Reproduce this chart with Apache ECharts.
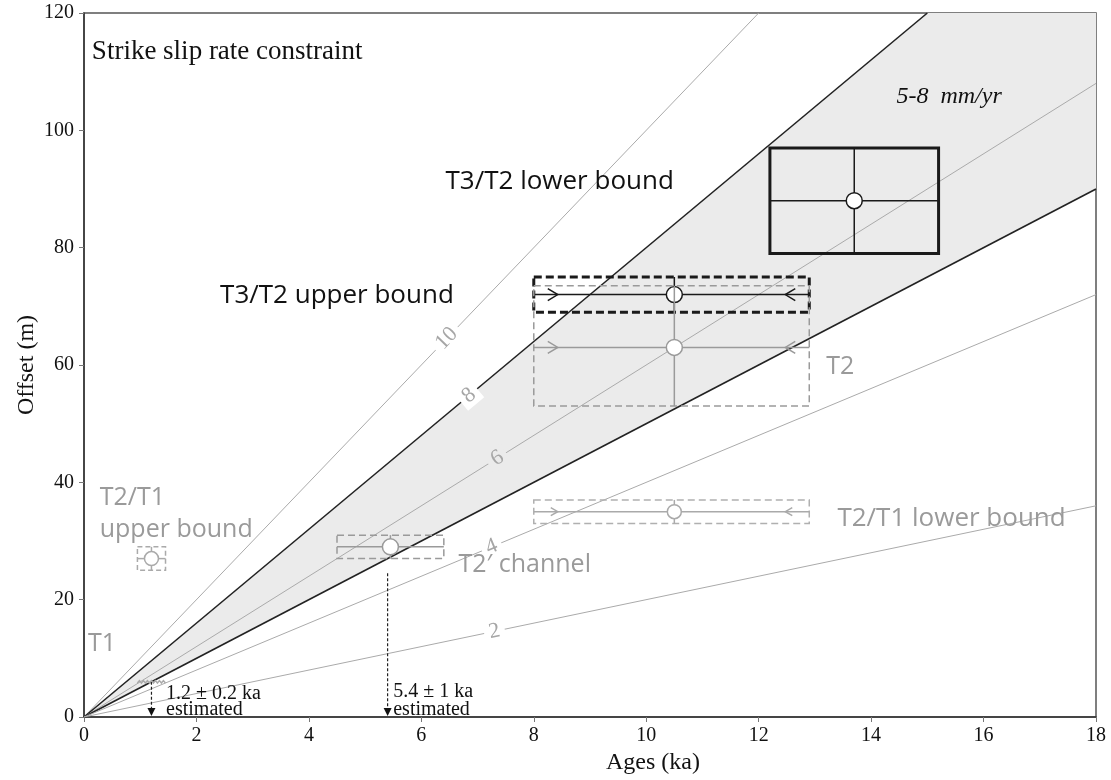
<!DOCTYPE html>
<html><head><meta charset="utf-8">
<script src="https://cdn.jsdelivr.net/npm/echarts@6/dist/echarts.min.js"></script>
<style>html,body{margin:0;padding:0;background:#fff}#c{width:1111px;height:780px}</style>
</head><body><div id="c"></div>
<script>
// ---- data ----
const xTickValues = [0, 2, 4, 6, 8, 10, 12, 14, 16, 18];
const rates = [10, 8, 6, 5, 4, 2];                 // mm/yr reference lines
const rateLabelAge = [6.45, 6.85, 7.35, null, 7.25, 7.3];
const bandRates = [5, 8];                          // 5-8 mm/yr band
const boxNames = ['T3/T2 lower bound', 'T3/T2 upper bound', 'T2', 'T2/T1 lower bound', "T2' channel", 'T2/T1 upper bound'];
const ageCenter = [13.7, 10.5, 10.5, 10.5, 5.45, 1.2];
const ageMin = [12.2, 8.0, 8.0, 8.0, 4.5, 0.95];
const ageMax = [15.2, 12.9, 12.9, 12.9, 6.4, 1.45];
const offsetCenter = [88, 72, 63, 35, 29, 27];
const offsetMin = [79, 69, 53, 33, 27, 25];
const offsetMax = [97, 75, 73.5, 37, 31, 29];
const estAge = [1.2, 5.4];
const estTopOffset = [6, 24.5];
const t1Ages = [0.95, 1.45];
const t1Offset = 6;

const X_MAX = 18, Y_MAX = 120;
const GRAY = '#9a9a9a', BLACK = '#1a1a1a', BAND = '#ebebeb';
const SERIF = '"Liberation Serif", "Times New Roman", serif';
const SANS = '"Open Sans", "Noto Sans", sans-serif';

// box styles per measurement (index aligned with boxNames)
const boxStyle = [
  {stroke: BLACK, lw: 3, dash: null, inner: BLACK, arrows: false, r: 8},
  {stroke: BLACK, lw: 3, dash: [8, 4], inner: BLACK, arrows: true, r: 8},
  {stroke: GRAY, lw: 1.5, dash: [7, 4], inner: GRAY, arrows: true, r: 8},
  {stroke: '#b0b0b0', lw: 1.5, dash: [7, 4], inner: '#aaa', arrows: true, r: 7, small: true},
  {stroke: GRAY, lw: 1.5, dash: [7, 4], inner: GRAY, arrows: false, r: 8},
  {stroke: '#aaa', lw: 1.5, dash: [5, 3], inner: '#aaa', arrows: false, r: 7}
];

const series = [];

// band polygon
series.push({
  type: 'custom', silent: true, z: 1,
  data: [[0]],
  renderItem: function (params, api) {
    const lo = bandRates[0], hi = bandRates[1];
    const pts = [[0, 0], [Math.min(X_MAX, Y_MAX / hi), Math.min(Y_MAX, hi * X_MAX)], [X_MAX, Y_MAX], [X_MAX, Math.min(Y_MAX, lo * X_MAX)]]
      .map(p => api.coord(p));
    return {type: 'polygon', shape: {points: pts}, style: {fill: BAND}};
  }
});

// rate lines
rates.forEach(function (r) {
  const bold = bandRates.indexOf(r) >= 0;
  const end = Math.min(X_MAX, Y_MAX / r);
  series.push({
    type: 'line', silent: true, z: 2, symbol: 'none', animation: false,
    data: [[0, 0], [end, r * end]],
    lineStyle: {color: bold ? '#222' : '#aaaaaa', width: bold ? 1.6 : 1}
  });
});

// rate labels
series.push({
  type: 'custom', silent: true, z: 3,
  data: rates.map((r, i) => rateLabelAge[i] == null ? null : [rateLabelAge[i], r * rateLabelAge[i], r]).filter(d => d),
  renderItem: function (params, api) {
    const x = api.value(0), y = api.value(1), r = api.value(2);
    const p = api.coord([x, y]);
    const p2 = api.coord([x + 1, y + r]);
    const ang = Math.atan2(p[1] - p2[1], p2[0] - p[0]);
    const inBand = r > bandRates[0] && r < bandRates[1];
    return {
      type: 'text', x: p[0], y: p[1], rotation: ang,
      style: {text: String(r), fill: '#a6a6a6', font: '22px ' + SERIF, align: 'center', verticalAlign: 'middle',
        backgroundColor: inBand ? BAND : '#fff', padding: [0, 5]}
    };
  }
});

// error boxes
series.push({
  type: 'custom', silent: true, z: 5,
  data: boxNames.map((n, i) => [ageMin[i], ageMax[i], offsetMin[i], offsetMax[i], ageCenter[i], offsetCenter[i], i]),
  renderItem: function (params, api) {
    const i = api.value(6);
    const s = boxStyle[i];
    const tl = api.coord([api.value(0), api.value(3)]);
    const br = api.coord([api.value(1), api.value(2)]);
    const c = api.coord([api.value(4), api.value(5)]);
    const children = [];
    children.push({type: 'rect', shape: {x: tl[0], y: tl[1], width: br[0] - tl[0], height: br[1] - tl[1]},
      style: {fill: null, stroke: s.stroke, lineWidth: s.lw, lineDash: s.dash}});
    children.push({type: 'line', shape: {x1: tl[0], y1: c[1], x2: br[0], y2: c[1]}, style: {stroke: s.inner, lineWidth: 1.5}});
    children.push({type: 'line', shape: {x1: c[0], y1: tl[1], x2: c[0], y2: br[1]}, style: {stroke: s.inner, lineWidth: 1.5}});
    if (s.arrows) {
      const h = s.small ? 4 : 6, w = s.small ? 7 : 10, off = 24;
      children.push({type: 'polyline', shape: {points: [[tl[0] + off - w, c[1] - h], [tl[0] + off, c[1]], [tl[0] + off - w, c[1] + h]]},
        style: {stroke: s.inner, lineWidth: 1.5, fill: null}});
      children.push({type: 'polyline', shape: {points: [[br[0] - off + w, c[1] - h], [br[0] - off, c[1]], [br[0] - off + w, c[1] + h]]},
        style: {stroke: s.inner, lineWidth: 1.5, fill: null}});
    }
    children.push({type: 'circle', shape: {cx: c[0], cy: c[1], r: s.r}, style: {fill: '#fff', stroke: s.inner, lineWidth: 1.5}});
    return {type: 'group', children: children};
  }
});

// estimated-age dotted arrows
series.push({
  type: 'custom', silent: true, z: 6,
  data: estAge.map((a, i) => [a, estTopOffset[i]]),
  renderItem: function (params, api) {
    const top = api.coord([api.value(0), api.value(1)]);
    const bot = api.coord([api.value(0), 0]);
    return {type: 'group', children: [
      {type: 'line', shape: {x1: top[0], y1: top[1], x2: bot[0], y2: bot[1] - 7}, style: {stroke: '#222', lineWidth: 1.2, lineDash: [3, 2]}},
      {type: 'polygon', shape: {points: [[bot[0] - 4, bot[1] - 9], [bot[0] + 4, bot[1] - 9], [bot[0], bot[1] - 1]]}, style: {fill: '#111'}}
    ]};
  }
});

// T1 mark
series.push({
  type: 'custom', silent: true, z: 6,
  data: [[t1Ages[0], t1Ages[1], t1Offset]],
  renderItem: function (params, api) {
    const a = api.coord([api.value(0), api.value(2)]);
    const b = api.coord([api.value(1), api.value(2)]);
    const pts = [];
    for (let x = a[0], k = 0; x <= b[0]; x += 2, k++) pts.push([x, a[1] + (k % 2 ? -1.2 : 1.2)]);
    return {type: 'polyline', shape: {points: pts}, style: {stroke: '#aaa', lineWidth: 1.5, fill: null}};
  }
});

// text annotations (anchor in data coords)
const annotations = [
  {t: 'Strike slip rate constraint', at: [0.14, 113.4], font: '27px ' + SERIF, fill: '#111'},
  {t: 'T3/T2 lower bound', at: [6.43, 91.2], font: '26px ' + SANS, fill: '#111'},
  {t: 'T3/T2 upper bound', at: [2.42, 71.8], font: '26px ' + SANS, fill: '#111'},
  {t: '5-8  mm/yr', at: [14.45, 105.7], font: 'italic 24px ' + SERIF, fill: '#111'},
  {t: 'T2', at: [13.2, 59.6], font: '25px ' + SANS, fill: GRAY},
  {t: 'T2/T1 lower bound', at: [13.4, 33.9], font: '26px ' + SANS, fill: GRAY},
  {t: 'T2/T1\nupper bound', at: [0.28, 34.7], font: '25px ' + SANS, fill: GRAY, lh: 32},
  {t: 'T2\u2032 channel', at: [6.66, 25.9], font: '25px ' + SANS, fill: GRAY},
  {t: 'T1', at: [0.07, 12.4], font: '25px ' + SANS, fill: GRAY},
  {t: '1.2 \u00b1 0.2 ka\nestimated', at: [1.46, 2.6], font: '20px ' + SERIF, fill: '#111', lh: 16},
  {t: '5.4 \u00b1 1 ka\nestimated', at: [5.5, 2.7], font: '20px ' + SERIF, fill: '#111', lh: 18}
];
series.push({
  type: 'custom', silent: true, z: 8,
  data: annotations.map((a, i) => [a.at[0], a.at[1], i]),
  renderItem: function (params, api) {
    const a = annotations[api.value(2)];
    const p = api.coord([api.value(0), api.value(1)]);
    return {type: 'text', x: p[0], y: p[1],
      style: {text: a.t, font: a.font, fill: a.fill, align: 'left', verticalAlign: 'middle', lineHeight: a.lh}};
  }
});

const option = {
  animation: false,
  backgroundColor: '#fff',
  grid: {left: 84, right: 15, top: 13, bottom: 62, show: true, borderColor: '#555', borderWidth: 1.5, backgroundColor: 'transparent'},
  xAxis: {
    type: 'value', min: 0, max: X_MAX, interval: 2,
    name: 'Ages (ka)', nameLocation: 'middle', nameGap: 34, nameMoveOverlap: false,
    nameTextStyle: {fontFamily: SERIF, fontSize: 24, color: '#111', padding: [0, 0, 0, 126]},
    axisLine: {show: true, lineStyle: {color: '#333', width: 1.5}},
    axisTick: {show: true, length: 5, lineStyle: {color: '#777'}},
    axisLabel: {fontFamily: SERIF, fontSize: 20, color: '#111', margin: 9},
    splitLine: {show: false}
  },
  yAxis: {
    type: 'value', min: 0, max: Y_MAX, interval: 20,
    name: 'Offset (m)', nameLocation: 'middle', nameGap: 45, nameRotate: 90, nameMoveOverlap: false,
    nameTextStyle: {fontFamily: SERIF, fontSize: 24, color: '#111'},
    axisLine: {show: true, lineStyle: {color: '#333', width: 1.5}},
    axisTick: {show: true, length: 5, lineStyle: {color: '#777'}},
    axisLabel: {fontFamily: SERIF, fontSize: 20, color: '#111', margin: 10},
    splitLine: {show: false}
  },
  series: series
};
const chart = echarts.init(document.getElementById('c'));
chart.setOption(option);
</script>
</body></html>
